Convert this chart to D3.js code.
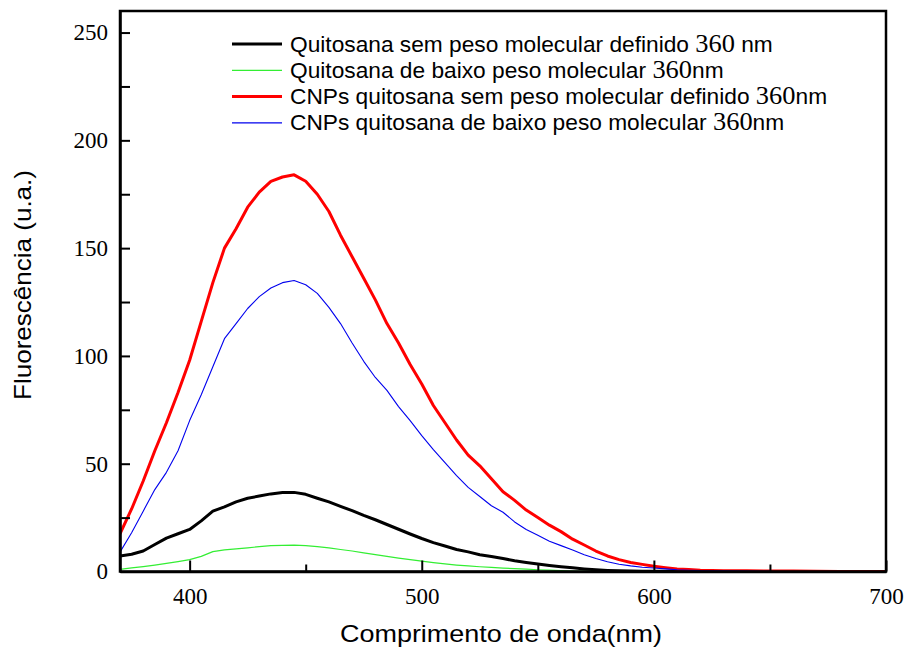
<!DOCTYPE html>
<html>
<head>
<meta charset="utf-8">
<script src="https://cdn.jsdelivr.net/npm/d3@7/dist/d3.min.js"></script>
<style>
  html, body { margin: 0; padding: 0; background: #fff; }
  svg { display: block; }
</style>
</head>
<body>
<svg id="chart" width="907" height="651"></svg>
<script>
// Emission wavelengths (nm)
const wavelengths = [370,375,380,385,390,395,400,405,410,415,420,425,430,435,440,445,450,455,460,465,
  470,475,480,485,490,495,500,505,510,515,520,525,530,535,540,545,550,555,560,565,570,575,580,585,
  590,595,600,605,610,615,620,630,640,650,660,680,700];

// Fluorescence intensity (u.a.) per sample
const quitosanaSemPeso = [7.2,8,9.5,12.5,15.5,17.5,19.5,23.5,28,30,32.3,34,35,36,36.6,36.7,35.8,34,32.3,30.2,
  28.2,26,24,21.8,19.6,17.4,15.3,13.4,11.8,10.2,9.1,7.8,7,6,5,4.2,3.5,2.8,2.2,1.7,1.2,0.8,0.5,0.3,
  0.2,0.1,0.1,0.1,0.1,0.1,0.1];
const quitosanaBaixoPeso = [1,1.7,2.3,3,3.8,4.6,5.5,7,9.2,10,10.5,11,11.5,12,12.1,12.2,12,11.5,11,10.2,
  9.5,8.6,7.8,7,6.2,5.5,4.8,4.1,3.5,3,2.6,2.2,1.9,1.6,1.3,1.1,0.8,0.6,0.4,0.2,0.1,0,0,0,0];
const cnpsSemPeso = [17.5,29,42,56,69,83,98,116,134,150,159,169,176,181,183,184,181,175,167,156,
  146,136,126,115,106,96,87,77,69,61,54,49,43,37,33,28.5,25,21.5,18.5,15,12.3,9.5,7.2,5.5,
  4.2,3.3,2.4,1.8,1.2,0.9,0.6,0.4,0.3,0.2,0.2,0,0];
const cnpsBaixoPeso = [9,18,28,38,46,56,70,82,95,108,115,122,127.5,131.5,134,135,133,129,122.5,115,
  106,97.5,90,84,76.5,70,63,56.5,50.5,44.5,39,34.8,30.5,27.5,23,19.5,16.8,14,12,10,7.8,6,4.5,3.4,
  2.6,2,1.6,1.2,0.8,0.6,0.4,0.3,0.2,0.1];

const seriesNames = [
  ["Quitosana sem peso molecular definido ", "360", " nm"],
  ["Quitosana de baixo peso molecular ", "360", "nm"],
  ["CNPs quitosana sem peso molecular definido ", "360", "nm"],
  ["CNPs quitosana de baixo peso molecular ", "360", "nm"]
];
const seriesValues = [quitosanaSemPeso, quitosanaBaixoPeso, cnpsSemPeso, cnpsBaixoPeso];
const seriesColors = ["#000000", "#33ee33", "#ff0000", "#0000ee"];
const seriesWidths = [3, 1.2, 3, 1.1];

const xMajorTicks = [400, 500, 600, 700];
const xMinorTicks = [450, 550, 650];
const yMajorTicks = [0, 50, 100, 150, 200, 250];
const yMinorTicks = [25, 75, 125, 175, 225];

const xTitle = "Comprimento de onda(nm)";
const yTitle = "Fluorescência (u.a.)";

const SANS = "'Liberation Sans', Arial, sans-serif";
const SERIF = "'Liberation Serif', 'Times New Roman', serif";

const W = 907, H = 651;
const margin = { left: 120, right: W - 886, top: 11, bottom: H - 571.5 };
const svg = d3.select("#chart");
const x = d3.scaleLinear().domain([370, 700]).range([margin.left, W - margin.right]);
const y = d3.scaleLinear().domain([0, 260]).range([H - margin.bottom, margin.top]);

// Curves, clipped to the plotting frame
svg.append("clipPath").attr("id", "plotClip").append("rect")
  .attr("x", x.range()[0]).attr("y", y.range()[1])
  .attr("width", x.range()[1] - x.range()[0]).attr("height", y.range()[0] - y.range()[1]);

const line = d3.line().x(d => x(d[0])).y(d => y(d[1]));
const curves = svg.append("g").attr("clip-path", "url(#plotClip)");
seriesValues.forEach((vals, i) => {
  const pts = vals.map((v, j) => [wavelengths[j], v]);
  curves.append("path")
    .attr("d", line(pts))
    .attr("fill", "none")
    .attr("stroke", seriesColors[i])
    .attr("stroke-width", seriesWidths[i])
    .attr("stroke-linejoin", "round");
});

// Axes with inward ticks
const gx = svg.append("g").attr("transform", `translate(0,${y(0)})`)
  .call(d3.axisBottom(x).tickValues(xMajorTicks).tickSizeInner(-11).tickSizeOuter(0).tickPadding(16).tickFormat(d3.format("d")));
svg.append("g").attr("transform", `translate(0,${y(0)})`)
  .call(d3.axisBottom(x).tickValues(xMinorTicks).tickSizeInner(-7).tickSizeOuter(0).tickFormat(""))
  .select(".domain").remove();
const gy = svg.append("g").attr("transform", `translate(${x(370)},0)`)
  .call(d3.axisLeft(y).tickValues(yMajorTicks).tickSizeInner(-10).tickSizeOuter(0).tickPadding(12).tickFormat(d3.format("d")));
svg.append("g").attr("transform", `translate(${x(370)},0)`)
  .call(d3.axisLeft(y).tickValues(yMinorTicks).tickSizeInner(-10).tickSizeOuter(0).tickFormat(""))
  .select(".domain").remove();

svg.selectAll(".tick line").attr("stroke", "#000").attr("stroke-width", 2);
[gx, gy].forEach(g => {
  g.select(".domain").attr("stroke", "#000").attr("stroke-width", 2.5);
  g.selectAll(".tick text").attr("font-family", SERIF).attr("font-size", 23).attr("fill", "#000");
});

// Frame
svg.append("rect")
  .attr("x", x.range()[0]).attr("y", y.range()[1])
  .attr("width", x.range()[1] - x.range()[0]).attr("height", y.range()[0] - y.range()[1])
  .attr("fill", "none").attr("stroke", "#000").attr("stroke-width", 2.5);

// Axis titles
svg.append("text")
  .attr("x", 501).attr("y", 642)
  .attr("text-anchor", "middle").attr("font-family", SANS).attr("font-size", 24)
  .attr("textLength", 322).attr("lengthAdjust", "spacingAndGlyphs")
  .text(xTitle);
svg.append("text")
  .attr("transform", `translate(31,285) rotate(-90)`)
  .attr("text-anchor", "middle").attr("font-family", SANS).attr("font-size", 24)
  .attr("textLength", 230).attr("lengthAdjust", "spacingAndGlyphs")
  .text(yTitle);

// Legend (labels slightly widened horizontally)
const legend = svg.append("g");
seriesNames.forEach((parts, i) => {
  const cy = 44 + i * 26.3;
  legend.append("line")
    .attr("x1", 232).attr("x2", 282).attr("y1", cy).attr("y2", cy)
    .attr("stroke", seriesColors[i]).attr("stroke-width", seriesWidths[i]);
  const t = legend.append("text")
    .attr("transform", `translate(290,${cy + 7.5}) scale(1.057,1)`)
    .attr("font-family", SANS).attr("font-size", 21.5).attr("fill", "#000");
  t.append("tspan").text(parts[0]);
  t.append("tspan").attr("font-family", SERIF).attr("font-size", 25).text(parts[1]);
  t.append("tspan").text(parts[2]);
});
</script>
</body>
</html>
